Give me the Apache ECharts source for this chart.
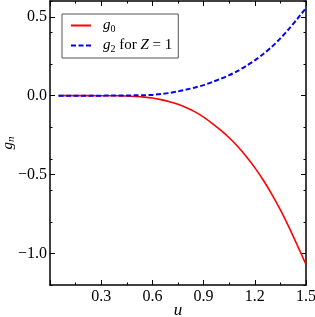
<!DOCTYPE html>
<html>
<head>
<meta charset="utf-8">
<script src="https://cdn.jsdelivr.net/npm/echarts@6/dist/echarts.min.js"></script>
<style>html,body{margin:0;padding:0;background:#fff}#c{width:315px;height:317px}</style>
</head>
<body>
<div id="c"></div>
<script>
const u = [0.05,0.10,0.15,0.20,0.25,0.30,0.35,0.40,0.45,0.50,0.55,0.60,0.65,0.70,0.75,0.80,0.85,0.90,0.95,1.00,1.05,1.10,1.15,1.20,1.25,1.30,1.35,1.40,1.45,1.50];
const g0 = [0,0,0,0,0,-0.0003,-0.0006,-0.001,-0.002,-0.005,-0.009,-0.015,-0.025,-0.038,-0.055,-0.077,-0.103,-0.136,-0.175,-0.219,-0.267,-0.322,-0.385,-0.456,-0.536,-0.625,-0.724,-0.833,-0.95,-1.07];
const g2 = [0,0,0,0,0,0.0002,0.0004,0.0008,0.0015,0.002,0.003,0.005,0.01,0.017,0.027,0.039,0.052,0.067,0.086,0.107,0.13,0.157,0.189,0.224,0.264,0.31,0.363,0.423,0.488,0.555];
const xTicks = [0.3,0.6,0.9,1.2,1.5];
const yTicks = [-1.0,-0.5,0.0,0.5];

const FF = 'Liberation Serif';
const fmtY = v => { const r = Math.round(v*10)/10; return (r < 0 ? '\u2212' : '') + Math.abs(r).toFixed(1); };
const fmtX = v => { const r = Math.round(v*10)/10; return xTicks.indexOf(r) >= 0 ? r.toFixed(1) : ''; };
const axLine = {show:true, onZero:false, lineStyle:{color:'#000', width:1.5}};
const y05 = 1 + (0.6-0.5)/1.8*284, yM1 = 1 + (0.6+1.0)/1.8*284;
const chart = echarts.init(document.getElementById('c'), null, {renderer:'canvas'});
const rich = {
  i:{fontFamily:FF, fontStyle:'italic', fontSize:15, color:'#000'},
  r:{fontFamily:FF, fontSize:15, color:'#000'},
  s:{fontFamily:FF, fontSize:10, color:'#000', padding:[7,0,0,0]},
  si:{fontFamily:FF, fontStyle:'italic', fontSize:11, color:'#000', padding:[7,0,0,0]}
};
chart.setOption({
  animation:false,
  backgroundColor:'#fff',
  grid:[
    {left:50, right:9, top:1, height:284, containLabel:false, outerBoundsMode:'none'},
    {left:50, right:9, top:y05, height:yM1-y05, containLabel:false, outerBoundsMode:'none'}
  ],
  xAxis:[
    {type:'value', gridIndex:0, position:'bottom', min:0, max:1.5, interval:0.3,
     axisLine:axLine, splitLine:{show:false},
     axisTick:{show:true, inside:true, length:5, lineStyle:{color:'#000', width:1}},
     minorTick:{show:true, splitNumber:2, length:2.5, lineStyle:{color:'#000', width:1}},
     axisLabel:{formatter:fmtX, fontFamily:FF, fontSize:16, color:'#000', margin:4},
     name:'u', nameLocation:'middle', nameGap:17, nameMoveOverlap:false,
     nameTextStyle:{fontFamily:FF, fontStyle:'italic', fontSize:17, color:'#000'}},
    {type:'value', gridIndex:0, position:'top', min:0, max:1.5, interval:0.3,
     axisLine:axLine, splitLine:{show:false},
     axisTick:{show:true, inside:true, length:5, lineStyle:{color:'#000', width:1}},
     minorTick:{show:true, splitNumber:2, length:2.5, lineStyle:{color:'#000', width:1}},
     axisLabel:{show:false}},
    {type:'value', gridIndex:1, min:0, max:1.5, show:false}
  ],
  yAxis:[
    {type:'value', gridIndex:0, position:'left', min:-1.2, max:0.6, interval:0.2,
     axisLine:axLine, splitLine:{show:false},
     axisTick:{show:true, inside:true, length:2.5, lineStyle:{color:'#000', width:1}},
     axisLabel:{show:false},
     name:'{i|g}{si|n}', nameLocation:'middle', nameGap:33, nameRotate:90, nameMoveOverlap:false,
     nameTextStyle:{rich:rich}},
    {type:'value', gridIndex:0, position:'right', min:-1.2, max:0.6, interval:0.2,
     axisLine:axLine, splitLine:{show:false},
     axisTick:{show:true, inside:true, length:2.5, lineStyle:{color:'#000', width:1}},
     axisLabel:{show:false}},
    {type:'value', gridIndex:1, position:'left', min:-1.0, max:0.5, interval:0.5,
     axisLine:{show:false, onZero:false}, splitLine:{show:false},
     axisTick:{show:true, inside:true, length:5, lineStyle:{color:'#000', width:1}},
     axisLabel:{formatter:fmtY, fontFamily:FF, fontSize:16, color:'#000', margin:3}},
    {type:'value', gridIndex:1, position:'right', min:-1.0, max:0.5, interval:0.5,
     axisLine:{show:false, onZero:false}, splitLine:{show:false},
     axisTick:{show:true, inside:true, length:5, lineStyle:{color:'#000', width:1}},
     axisLabel:{show:false}}
  ],
  legend:{
    left:62, top:14, orient:'vertical', itemWidth:20, itemHeight:14, itemGap:4,
    padding:[4,6,4,8], borderColor:'#555', borderWidth:1, backgroundColor:'#fff',
    data:['g0','g2'],
    itemStyle:{opacity:0},
    formatter: n => n === 'g0' ? '{i|g}{s|0}' : '{i|g}{s|2}{r| for }{i|Z}{r| = 1}',
    textStyle:{padding:[0,0,0,7], rich:rich}
  },
  series:[
    {name:'g0', type:'line', xAxisIndex:0, yAxisIndex:0, showSymbol:false, symbol:'none', smooth:0.3,
     data:u.map((x,i)=>[x,g0[i]]), lineStyle:{color:'#ff0000', width:1.6}, itemStyle:{color:'#ff0000', opacity:0}},
    {name:'g2', type:'line', xAxisIndex:0, yAxisIndex:0, showSymbol:false, symbol:'none', smooth:0.3,
     data:u.map((x,i)=>[x,g2[i]]), lineStyle:{color:'#0000ff', width:2, type:[5,2.5]}, itemStyle:{color:'#0000ff', opacity:0}}
  ]
});
</script>
</body>
</html>
